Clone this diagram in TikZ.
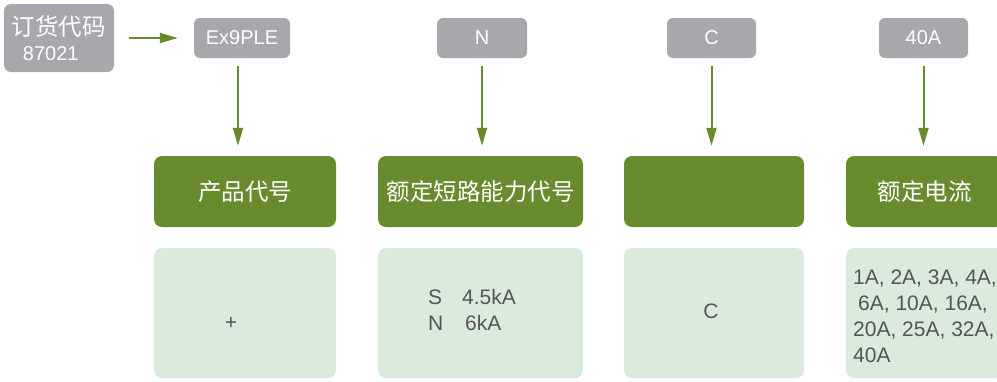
\documentclass[tikz,border=0pt]{standalone}
\usepackage{fontspec}
\setmainfont{Liberation Sans}
\newfontfamily\cjk{Noto Sans CJK SC}
\usetikzlibrary{arrows.meta}
\usetikzlibrary{positioning}
\definecolor{codegray}{HTML}{A7A8AB}
\definecolor{headgreen}{HTML}{688B2E}
\definecolor{bodygreen}{HTML}{D8EBDD}
\definecolor{textgray}{HTML}{555555}

\begin{document}
\begin{tikzpicture}[x=1pt,y=-1pt,
codebox/.style={fill=codegray, rounded corners=6pt, text=white, inner sep=0pt, minimum height=40pt, font=\fontsize{20}{25}\selectfont},
headbox/.style={fill=headgreen, rounded corners=8pt, text=white, inner sep=0pt, minimum height=71pt, font=\cjk\fontsize{23.5}{28}\selectfont},
bodybox/.style={fill=bodygreen, rounded corners=8pt, inner sep=0pt, minimum height=130pt},
bodytext/.style={text=textgray, inner sep=0pt, font=\fontsize{21}{26}\selectfont},
feed/.style={draw=headgreen, line width=2pt, -{Triangle[length=18pt,width=10pt]}}]
\useasboundingbox (0,0) rectangle (997,381);
\clip (0,0) rectangle (997,381);
\node[codebox, minimum width=110pt, minimum height=68pt, rounded corners=7pt, align=left] (order) at (59,38)
{{\cjk\fontsize{23.5}{25}\selectfont 订货代码}\\\hspace*{11pt}87021};
\node[codebox, minimum width=96pt] (pn) at (242,38) {Ex9PLE};
\node[codebox, minimum width=90pt] (bc) at (482,38) {N};
\node[codebox, minimum width=89pt] (cc) at (711.5,38) {C};
\node[codebox, minimum width=89pt] (ic) at (923.5,38) {40A};
\node[headbox, minimum width=182pt] (h1) at (245,191.5) {产品代号};
\node[headbox, minimum width=205pt] (h2) at (480.5,191.5) {额定短路能力代号};
\node[headbox, minimum width=180pt] (h3) at (714,191.5) {};
\node[headbox, minimum width=157pt] (h4) at (924.5,191.5) {额定电流};
\node[bodybox, minimum width=182pt] (b1) at (245,313) {};
\node[bodybox, minimum width=205pt] (b2) at (480.5,313) {};
\node[bodybox, minimum width=180pt] (b3) at (714,313) {};
\node[bodybox, minimum width=157pt] (b4) at (924.5,313) {};
\node[bodytext] (plus) at (231,323) {+};
\node[bodytext, align=left, anchor=west] (bcv) at (428,310)
{\makebox[34pt][l]{S}4.5kA\\\makebox[37pt][l]{N}6kA};
\node[bodytext] (ccv) at (711,311) {C};
\node[bodytext, align=left, anchor=north west] (icv) at (853,270)
{1A, 2A, 3A, 4A,\\\hspace*{5pt}6A, 10A, 16A,\\20A, 25A, 32A,\\40A};
\draw[feed, shorten <=15pt, shorten >=16pt] (order) -- (pn);
\draw[feed, shorten <=8pt, shorten >=10pt] ([xshift=-4pt]pn.south) -- ([xshift=-4pt]pn.south |- h1.north);
\draw[feed, shorten <=8pt, shorten >=10pt] (bc.south) -- (bc.south |- h2.north);
\draw[feed, shorten <=8pt, shorten >=10pt] (cc.south) -- (cc.south |- h3.north);
\draw[feed, shorten <=8pt, shorten >=10pt] (ic.south) -- (ic.south |- h4.north);
\end{tikzpicture}
\end{document}
